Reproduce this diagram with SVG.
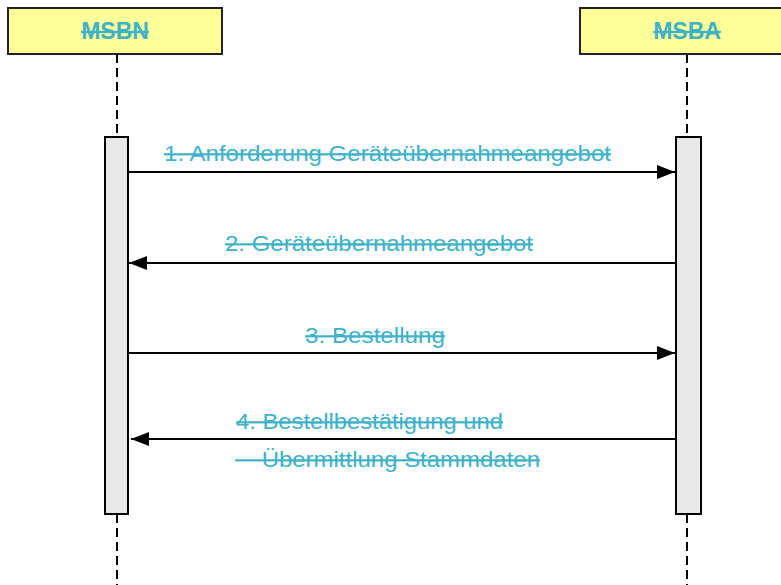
<svg xmlns="http://www.w3.org/2000/svg" width="781" height="585" viewBox="0 0 781 585">
<defs>
<style>
.hdr{fill:#FFFF99;stroke:#222;stroke-width:2}
.htxt{font-family:"Liberation Sans",Arial,sans-serif;font-weight:bold;font-size:23px;fill:#3FB2C8;text-decoration:line-through;text-anchor:middle}
.life{stroke:#000;stroke-width:2;stroke-dasharray:9 5;fill:none}
.act{fill:#E8E8E8;stroke:#000;stroke-width:2}
.msg{stroke:#000;stroke-width:2;fill:none}
.lbl{font-family:"Liberation Sans",Arial,sans-serif;font-size:22px;fill:#3FB2C8;text-decoration:line-through}
</style>
<marker id="ah" viewBox="0 0 18 14" refX="18" refY="7" markerWidth="18" markerHeight="14" markerUnits="userSpaceOnUse" orient="auto">
<path d="M0,0 L18,7 L0,14 Z" fill="#000"/>
</marker>
</defs>
<rect width="781" height="585" fill="#fff"/>
<g id="lifelines">
<line class="life" x1="117" y1="54" x2="117" y2="137"/>
<line class="life" x1="117" y1="514" x2="117" y2="585"/>
<line class="life" x1="687" y1="54" x2="687" y2="137"/>
<line class="life" x1="687" y1="514" x2="687" y2="585"/>
</g>
<g id="MSBN">
<rect class="hdr" x="8" y="8" width="214" height="46"/>
<text class="htxt" x="115" y="39">MSBN</text>
</g>
<g id="MSBA">
<rect class="hdr" x="580" y="8" width="214" height="46"/>
<text class="htxt" x="687" y="39">MSBA</text>
</g>
<g id="act-MSBN">
<rect class="act" x="105" y="137" width="23" height="377"/>
</g>
<g id="act-MSBA">
<rect class="act" x="676" y="137" width="25" height="377"/>
</g>
<g id="connectors">
<line class="msg" x1="128" y1="172" x2="675" y2="172" marker-end="url(#ah)"/>
<line class="msg" x1="675" y1="263" x2="129" y2="263" marker-end="url(#ah)"/>
<line class="msg" x1="128" y1="353" x2="675" y2="353" marker-end="url(#ah)"/>
<line class="msg" x1="675" y1="439" x2="131" y2="439" marker-end="url(#ah)"/>
</g>
<g id="labels">
<text class="lbl" x="164" y="161" textLength="447" lengthAdjust="spacingAndGlyphs">1. Anforderung Geräteübernahmeangebot</text>
<text class="lbl" x="225" y="251" textLength="308" lengthAdjust="spacingAndGlyphs">2. Geräteübernahmeangebot</text>
<text class="lbl" x="305" y="343" textLength="140" lengthAdjust="spacingAndGlyphs">3. Bestellung</text>
<text class="lbl" x="236" y="429" textLength="267" lengthAdjust="spacingAndGlyphs">4. Bestellbestätigung und</text>
<text class="lbl" x="235" y="467" textLength="305" lengthAdjust="spacingAndGlyphs" xml:space="preserve">    Übermittlung Stammdaten</text>
</g>
</svg>
